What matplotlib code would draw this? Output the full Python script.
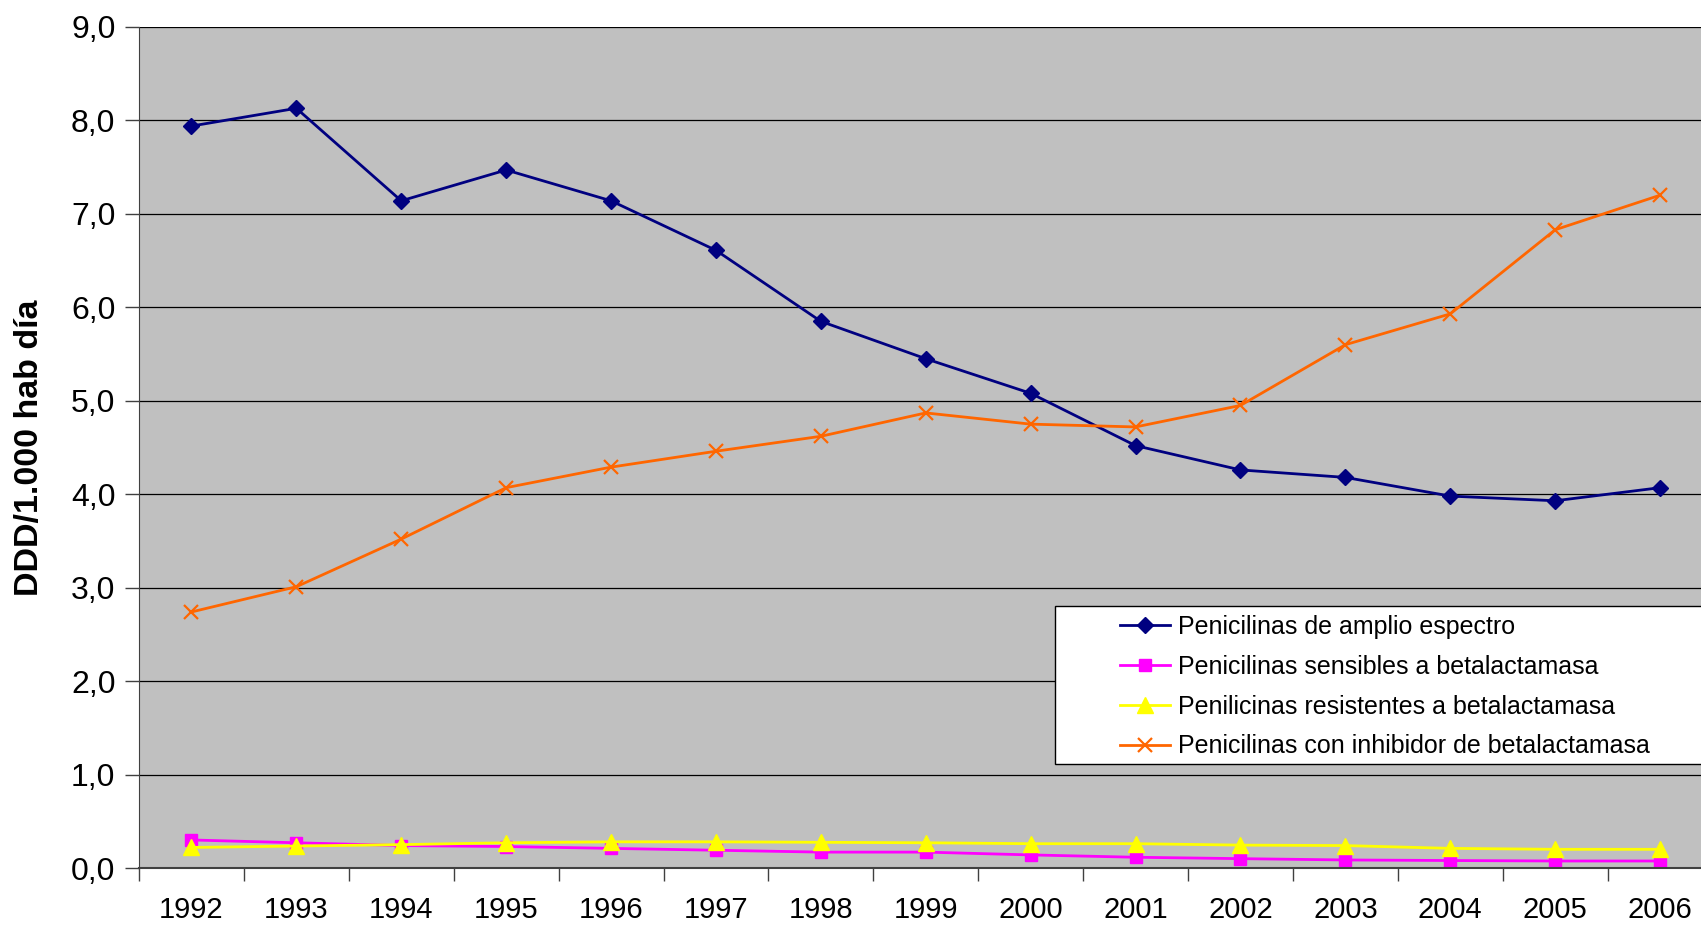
import matplotlib.pyplot as plt
from matplotlib.patches import Rectangle
from matplotlib.ticker import FixedLocator, FuncFormatter

plt.rcParams['font.family'] = ['Liberation Sans', 'DejaVu Sans']

years = ['1992', '1993', '1994', '1995', '1996', '1997', '1998', '1999',
         '2000', '2001', '2002', '2003', '2004', '2005', '2006']
amplio = [7.94, 8.13, 7.14, 7.47, 7.14, 6.61, 5.85, 5.45, 5.08, 4.52,
          4.26, 4.18, 3.98, 3.93, 4.07]
sensibles = [0.30, 0.27, 0.24, 0.23, 0.21, 0.19, 0.17, 0.17, 0.14, 0.115,
             0.10, 0.086, 0.08, 0.075, 0.075]
resistentes = [0.22, 0.235, 0.25, 0.27, 0.28, 0.28, 0.275, 0.27, 0.26, 0.26,
               0.245, 0.24, 0.21, 0.20, 0.20]
inhibidor = [2.74, 3.01, 3.52, 4.07, 4.29, 4.46, 4.62, 4.87, 4.75, 4.72,
             4.95, 5.60, 5.93, 6.83, 7.20]

labels = ['Penicilinas de amplio espectro',
          'Penicilinas sensibles a betalactamasa',
          'Penilicinas resistentes a betalactamasa',
          'Penicilinas con inhibidor de betalactamasa']

W, H = 1701, 927
fig = plt.figure(figsize=(W / 100, H / 100), dpi=100)
ax = fig.add_axes([139 / W, 59 / H, 1 - 139 / W, 841 / H])
ax.set_facecolor('#C0C0C0')

x = list(range(len(years)))
ax.plot(x, amplio, color='#000080', lw=2, marker='D', ms=8.5, label=labels[0])
ax.plot(x, sensibles, color='#FF00FF', lw=2, marker='s', ms=9, label=labels[1])
ax.plot(x, resistentes, color='#FFFF00', lw=2, marker='^', ms=11, label=labels[2])
ax.plot(x, inhibidor, color='#FF6600', lw=2, marker='x', ms=10, mew=1.6, label=labels[3])

ax.set_ylim(0, 9)
ax.set_xlim(-0.5, 14.39)
ax.set_yticks(range(10))
ax.yaxis.set_major_formatter(FuncFormatter(lambda v, p: f'{v:.1f}'.replace('.', ',')))
ax.grid(axis='y', color='black', lw=0.9)
ax.set_axisbelow(True)

# year labels sit between the tick marks
ax.xaxis.set_major_locator(FixedLocator([i - 0.5 for i in range(len(years) + 1)]))
ax.xaxis.set_minor_locator(FixedLocator(x))
ax.set_xticklabels([])
ax.set_xticklabels(years, minor=True)
ax.tick_params(axis='x', which='minor', length=0, labelsize=21, pad=20)
ax.tick_params(axis='x', which='major', length=9, width=1, color='#404040')
ax.tick_params(axis='y', length=10, width=1, labelsize=23, pad=7, color='#404040')

for side in ['top', 'right']:
    ax.spines[side].set_visible(False)
ax.spines['left'].set_color('#404040')
ax.spines['bottom'].set_color('#404040')
ax.spines['bottom'].set_linewidth(1.5)

ax.set_ylabel('DDD/1.000 hab día', fontsize=24.5, fontweight='bold')
ax.yaxis.set_label_coords((45 - 139) / 1562, 0.5)

# legend box, wider than the entries it holds
box = Rectangle((1055 / W, 1 - 764 / H), (W - 1055) / W + 0.01, 158 / H,
                transform=fig.transFigure, facecolor='white', edgecolor='black',
                lw=1, zorder=5, clip_on=False)
ax.add_patch(box)
leg = ax.legend(loc='upper left', bbox_to_anchor=(1120 / W, 1 - 615 / H),
                bbox_transform=fig.transFigure, fontsize=18, frameon=False,
                handlelength=2.0, borderpad=0, labelspacing=0.63, handletextpad=0.3,
                borderaxespad=0)
leg.set_zorder(6)

fig.savefig('out.png', dpi=100)
